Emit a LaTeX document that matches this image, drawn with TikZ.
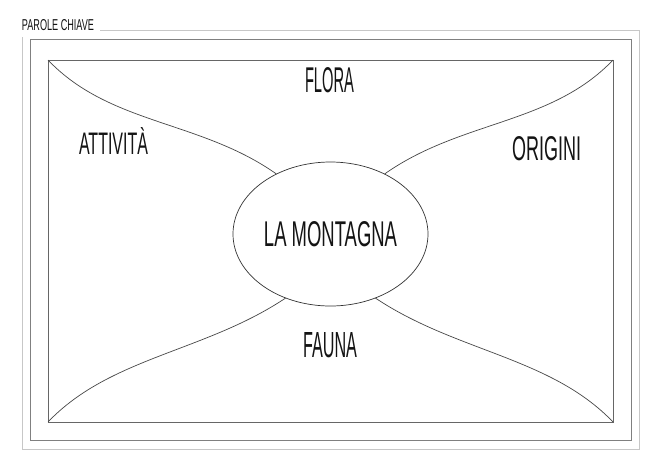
\documentclass[tikz,border=0pt]{standalone}
\usepackage{fontspec}
\setmainfont{Liberation Sans}
\usetikzlibrary{shapes.geometric}
\newcommand\hwtxt[3]{\resizebox{#1pt}{#2pt}{#3}}
\begin{document}
\begin{tikzpicture}[x=1pt,y=-1pt,
  frameout/.style={draw=black!22, line width=0.9pt},
  framemid/.style={draw=black!50, line width=0.9pt},
  framein/.style={draw=black!60, line width=0.9pt},
  link/.style={draw=black!72, line width=0.7pt},
  lbl/.style={inner sep=0pt, outer sep=0pt, text=black!92},
  hub/.style={ellipse, draw=black!80, line width=0.7pt, minimum width=195pt,
    minimum height=144pt, inner sep=0pt, outer sep=0pt, text=black!92}
]
\useasboundingbox[fill=white] (0,0) rectangle (661,467);
% title
\node[lbl] (pc) at (58,25) {\hwtxt{72}{11}{PAROLE CHIAVE}};
% frames
\draw[frameout] (100,30) -- (639,30) -- (639,449) -- (22,449) -- (22,37);
\draw[framemid] (30,39) rectangle (631,440);
\draw[framein] (48,60) rectangle (613,422);
\coordinate (tl) at (48,60);
\coordinate (tr) at (613,60);
\coordinate (bl) at (48,422);
\coordinate (br) at (613,422);
% centre
\node[hub] (c) at (330.5,234) {\hwtxt{133}{25}{LA MONTAGNA}};
% connectors
\draw[link] (tl) .. controls (110,125) and (200,120) .. (c.132);
\draw[link] (tr) .. controls (551,125) and (461,120) .. (c.48);
\draw[link] (bl) .. controls (110,357) and (205,352) .. (c.235);
\draw[link] (br) .. controls (551,357) and (456,352) .. (c.305);
% labels
\node[lbl] (flora) at (329.5,80.5) {\hwtxt{49}{25}{FLORA}};
\node[lbl] (attivita) at (113.5,140.5) {\hwtxt{69}{27}{ATTIVITÀ}};
\node[lbl] (origini) at (546.5,149) {\hwtxt{69}{24}{ORIGINI}};
\node[lbl] (fauna) at (330,345.5) {\hwtxt{54}{25}{FAUNA}};
\end{tikzpicture}
\end{document}
